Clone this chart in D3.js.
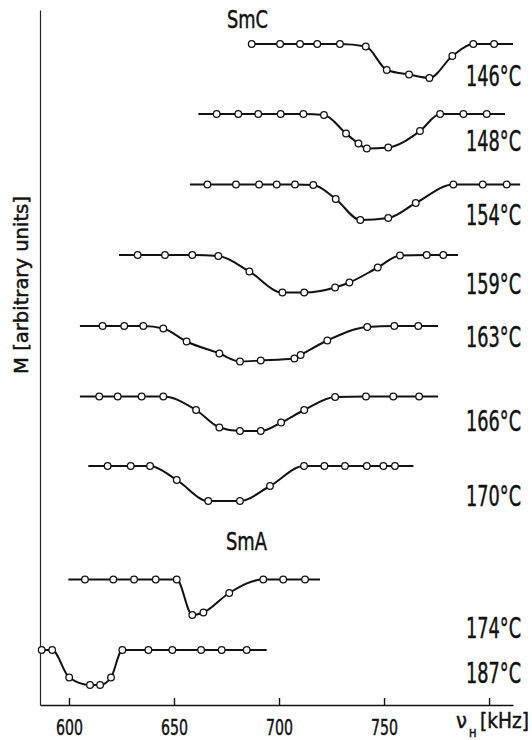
<!DOCTYPE html>
<html>
<head>
<meta charset="utf-8">
<script src="https://cdn.jsdelivr.net/npm/d3@7"></script>
<style>
  html, body { margin: 0; padding: 0; background: #fff; }
  svg { display: block; }
  text { font-family: "Liberation Sans Narrow", "DejaVu Sans Condensed", "Arial Narrow", sans-serif; fill: #111; stroke: #111; stroke-width: 0.45px; }
</style>
</head>
<body>
<svg id="chart" width="532" height="740"></svg>
<script>
// ---------------- data ----------------
const temps = ["146°C", "148°C", "154°C", "159°C", "163°C", "166°C", "170°C", "174°C", "187°C"];

// frequency of each measured point (kHz)
const freqs = [
  [687.0, 700.5, 710.0, 718.2, 729.0, 741.3, 751.3, 761.9, 771.6, 782.5, 792.5, 802.4],
  [670.3, 680.6, 690.1, 700.8, 711.6, 721.4, 731.9, 737.8, 741.8, 752.0, 767.1, 776.7, 787.8, 798.9],
  [665.9, 679.5, 690.5, 698.9, 707.6, 716.3, 727.0, 738.7, 752.0, 765.1, 783.0, 797.0, 808.4],
  [632.7, 645.7, 658.7, 671.1, 685.9, 701.6, 712.0, 726.7, 733.5, 747.0, 757.6, 770.3, 778.2],
  [616.0, 626.3, 635.4, 644.9, 656.0, 671.6, 681.4, 691.3, 707.3, 710.3, 723.0, 742.0, 754.9, 766.3],
  [614.4, 623.2, 634.6, 644.9, 660.5, 671.6, 681.4, 691.3, 701.0, 712.0, 726.7, 741.4, 754.4, 766.7],
  [618.4, 629.4, 638.6, 651.3, 666.3, 681.4, 695.7, 711.9, 721.6, 731.4, 741.8, 749.7, 755.2],
  [607.6, 621.1, 631.0, 641.3, 651.3, 658.7, 664.0, 676.3, 692.5, 702.0, 712.4],
  [587.0, 592.0, 600.1, 610.0, 614.8, 620.0, 625.4, 637.8, 649.2, 662.9, 672.7, 684.6]
];

// M relative to each curve's plateau (arbitrary units)
const values = [
  [0, 0, 0, 0, 0, -0.5, -5.2, -6.1, -6.8, -2.4, 0, 0],
  [0, 0, 0, 0, 0, -0.2, -3.9, -5.9, -6.9, -6.7, -3.4, 0, 0, 0],
  [0, 0, 0, 0, 0, -0.1, -2.9, -7.1, -6.7, -3.7, 0, 0, 0],
  [0, 0, 0, -0.2, -3.3, -7.5, -7.5, -6.5, -5.5, -2.5, -0.1, 0, 0],
  [0, 0, 0, -0.5, -3.1, -5.5, -7.1, -6.9, -6.5, -5.8, -2.9, -0.2, 0, 0],
  [0, 0, 0, 0, -2.7, -6.2, -6.9, -6.9, -5.2, -2.7, -0.1, 0, 0, 0],
  [0, 0, 0, -2.8, -7.0, -7.0, -4.0, 0, 0, 0, 0, 0, 0],
  [0, 0, 0, 0, 0, -7.1, -6.6, -2.7, 0, 0, 0],
  [0, 0, -5.5, -7.0, -7.0, -5.5, 0, 0, 0, 0, 0, 0]
];

// vertical offset of each curve's plateau (arbitrary units)
const offsets = [132.2, 118.2, 104.1, 90.0, 75.8, 61.7, 47.8, 25.1, 11.0];

// extent of the drawn line of each curve (kHz)
const lineStart = [687.0, 661.6, 657.6, 623.8, 605.2, 605.2, 609.2, 599.7, 587.0];
const lineEnd   = [811.4, 807.6, 814.8, 785.2, 775.7, 775.7, 764.0, 719.5, 694.1];

const xTicks = [600, 650, 700, 750, 800];
const xTickLabels = ["600", "650", "700", "750", ""];
const phaseLabels = ["SmC", "SmA"];

// ---------------- layout ----------------
const svg = d3.select("#chart");
const xDomain = [586.2, 811.4];
const x = d3.scaleLinear().domain(xDomain).range([40, 513]);
const y = d3.scaleLinear().domain([0, 139]).range([705, 10]);

// place a text at (px, py) with given anchor, squeezed horizontally to width w
function fitText(parent, str, px, py, size, w, anchor, rotate) {
  const t = parent.append("text")
    .attr("font-size", size)
    .attr("text-anchor", anchor || "start")
    .text(str);
  const natural = t.node().getComputedTextLength();
  const sx = natural > 0 ? w / natural : 1;
  t.attr("transform", `translate(${px},${py})` + (rotate ? ` rotate(${rotate})` : "") + ` scale(${sx},1)`);
  return t;
}

// axes
const xAxis = d3.axisBottom(x).tickValues(xTicks).tickSizeInner(-7).tickSizeOuter(0)
  .tickFormat(() => "");
const gx = svg.append("g").attr("transform", `translate(0,${y(0)})`).call(xAxis);
gx.select(".domain").attr("stroke", "#111").attr("stroke-width", 1.4);
gx.selectAll(".tick line").attr("stroke", "#111").attr("stroke-width", 1.4);
gx.selectAll(".tick text").remove();
gx.selectAll(".tick").each(function (d, i) {
  if (xTickLabels[i]) fitText(d3.select(this), xTickLabels[i], 0, 29.5, 22, 27, "middle");
});

const yAxis = d3.axisLeft(y).tickValues([]).tickSizeOuter(0);
const gy = svg.append("g").attr("transform", `translate(${x(xDomain[0])},0)`).call(yAxis);
gy.select(".domain").attr("stroke", "#222").attr("stroke-width", 1.2);

// axis titles
fitText(svg, "M [arbitrary units]", 28, 285, 19, 178, "middle", -90);
fitText(svg, "ν", 456, 728, 22, 11, "start");
fitText(svg, "H", 469, 736.5, 11, 7.5, "start");
fitText(svg, "[kHz]", 480, 728, 22, 49, "start");

// phase labels
const phasePos = [[247.5, 28.3], [246.5, 550]];
phaseLabels.forEach((p, i) => fitText(svg, p, phasePos[i][0], phasePos[i][1], 25, 41, "middle"));

// curves
const line = d3.line()
  .x(d => x(d.f))
  .y(d => y(d.m))
  .curve(d3.curveMonotoneX);

const labelBaseline = [86, 151, 225, 294, 347, 431, 506, 638, 683];

temps.forEach((t, i) => {
  const pts = freqs[i].map((f, j) => ({ f, m: offsets[i] + values[i][j] }));
  const path = [];
  if (lineStart[i] < freqs[i][0] - 0.05) path.push({ f: lineStart[i], m: offsets[i] });
  path.push(...pts);
  if (lineEnd[i] > freqs[i][freqs[i].length - 1] + 0.05) path.push({ f: lineEnd[i], m: offsets[i] });

  const g = svg.append("g");
  g.append("path")
    .datum(path)
    .attr("d", line)
    .attr("fill", "none")
    .attr("stroke", "#111")
    .attr("stroke-width", 2);

  g.selectAll("circle")
    .data(pts)
    .join("circle")
    .attr("cx", d => x(d.f))
    .attr("cy", d => y(d.m))
    .attr("r", 3.3)
    .attr("fill", "#fff")
    .attr("stroke", "#111")
    .attr("stroke-width", 1.3);

  fitText(svg, t, 521, labelBaseline[i], 28, 55, "end");
});
</script>
</body>
</html>
